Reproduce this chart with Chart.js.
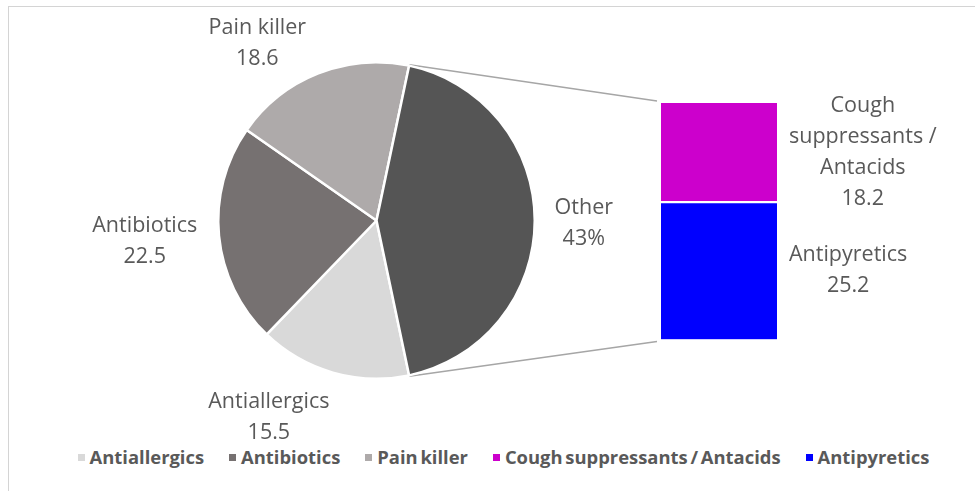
<!DOCTYPE html>
<html>
<head>
<meta charset="utf-8">
<title>Pie of bar</title>
<script src="https://cdn.jsdelivr.net/npm/chart.js@4.4.1/dist/chart.umd.min.js"></script>
<style>
  html, body { margin: 0; padding: 0; background: #fff; }
  #wrap { position: relative; width: 975px; height: 491px; overflow: hidden; }
  #frame { position: absolute; left: 8px; top: 6px; width: 1100px; height: 600px;
           border-left: 1px solid #d4d4d4; border-top: 1px solid #d4d4d4; }
  #pieChart { position: absolute; left: 0; top: 0; }
  #barChart { position: absolute; left: 640px; top: 60px; }
  #legend { position: absolute; left: 0; width: 1007px; top: 444px; display: flex;
            justify-content: center; font: bold 18.4px "Open Sans"; color: #595959; line-height: 26px;
            word-spacing: -2px; }
  .lg-item { display: flex; align-items: center; margin: 0 12.5px; white-space: nowrap; }
  .lg-box { width: 7px; height: 7px; margin-right: 5px; }
</style>
</head>
<body>
<div id="wrap">
  <div id="frame"></div>
  <canvas id="pieChart" width="753" height="441"></canvas>
  <canvas id="barChart" width="335" height="310"></canvas>
  <div id="legend"></div>
</div>
<script>
// ── data ─────────────────────────────────────────────
const pieLabels = ['Antiallergics', 'Antibiotics', 'Pain killer'];
const pieValues = [15.5, 22.5, 18.6];
const barLabels = ['Cough suppressants / Antacids', 'Antipyretics'];
const barValues = [18.2, 25.2];
const otherLabel = 'Other';

const pieColors = ['#d9d9d9', '#767171', '#aeaaaa'];
const otherColor = '#555555';
const barColors = ['#cc00cc', '#0000ff'];

const textColor = '#595959';
const labelFont = '21.5px "Open Sans"';

const otherValue = barValues.reduce((a, b) => a + b, 0);
const grandTotal = pieValues.reduce((a, b) => a + b, 0) + otherValue;
// Other slice centred on the right, like Excel's pie-of-bar
const otherSweep = otherValue / grandTotal * 360;

// simple greedy word wrap for the canvas labels
function wrapText(ctx, text, maxW) {
  const words = text.split(' ');
  const lines = [];
  let cur = '';
  words.forEach(w => {
    const test = cur ? cur + ' ' + w : w;
    if (cur && ctx.measureText(test).width > maxW) { lines.push(cur); cur = w; }
    else cur = test;
  });
  if (cur) lines.push(cur);
  return lines;
}

// ── bar (the "of bar" part) ──────────────────────────
const barLabelPlugin = {
  id: 'barLabels',
  afterDraw(chart, args, opts) {
    const ctx = chart.ctx;
    ctx.save();
    ctx.font = labelFont;
    ctx.fillStyle = textColor;
    ctx.textAlign = 'center';
    ctx.textBaseline = 'middle';
    chart.data.datasets.forEach((ds, i) => {
      const bar = chart.getDatasetMeta(i).data[0];
      const p = bar.getProps(['x', 'y', 'base', 'width']);
      const lines = wrapText(ctx, ds.label, opts.wrapWidth).concat([String(ds.data[0])]);
      const bw = Math.max(...lines.map(l => ctx.measureText(l).width));
      const cx = p.x + p.width / 2 + opts.gap + bw / 2;
      const cy = (p.y + p.base) / 2;
      lines.forEach((t, k) => ctx.fillText(t, cx, cy + (k - (lines.length - 1) / 2) * opts.lineHeight));
    });
    ctx.restore();
  }
};

// stacked bottom-up: Antipyretics below, Cough suppressants on top
const barDatasets = barLabels.map((lab, i) => ({
  label: lab,
  data: [barValues[i]],
  backgroundColor: barColors[i],
  borderColor: '#ffffff',
  borderWidth: i === 0 ? { top: 0, bottom: 1.5, left: 0, right: 0 } : { top: 1.5, bottom: 0, left: 0, right: 0 },
  borderSkipped: false,
  barPercentage: 1,
  categoryPercentage: 1
})).reverse();

const barChart = new Chart(document.getElementById('barChart'), {
  type: 'bar',
  data: { labels: [''], datasets: barDatasets },
  options: {
    responsive: false,
    animation: false,
    layout: { padding: { left: 21, right: 198, top: 43, bottom: 30.5 } },
    plugins: {
      legend: { display: false },
      tooltip: { enabled: false },
      barLabels: { gap: 12, wrapWidth: 165, lineHeight: 31 }
    },
    scales: {
      x: { display: false, stacked: true },
      y: { display: false, stacked: true, min: 0, max: otherValue }
    }
  },
  plugins: [barLabelPlugin]
});

// ── pie ──────────────────────────────────────────────
const pieLabelPlugin = {
  id: 'pieLabels',
  beforeDatasetsDraw(chart, args, opts) {
    // connector lines from the Other slice to the bar
    const ctx = chart.ctx;
    const arc = chart.getDatasetMeta(0).data[pieValues.length];
    const a = arc.getProps(['x', 'y', 'startAngle', 'endAngle', 'outerRadius']);
    const offX = barChart.canvas.offsetLeft - chart.canvas.offsetLeft;
    const offY = barChart.canvas.offsetTop - chart.canvas.offsetTop;
    const metas = barChart.data.datasets.map((d, i) => barChart.getDatasetMeta(i).data[0].getProps(['x', 'y', 'base', 'width']));
    const left = metas[0].x - metas[0].width / 2 + offX - 4;
    const top = Math.min(...metas.map(m => m.y)) + offY - 2;
    const bottom = Math.max(...metas.map(m => m.base)) + offY + 2;
    const R = a.outerRadius + 1;
    ctx.save();
    ctx.strokeStyle = '#a6a6a6';
    ctx.lineWidth = 1.5;
    ctx.beginPath();
    ctx.moveTo(a.x + Math.cos(a.startAngle) * R, a.y + Math.sin(a.startAngle) * R);
    ctx.lineTo(left, top);
    ctx.moveTo(a.x + Math.cos(a.endAngle) * R, a.y + Math.sin(a.endAngle) * R);
    ctx.lineTo(left, bottom);
    ctx.stroke();
    ctx.restore();
  },
  afterDraw(chart, args, opts) {
    const ctx = chart.ctx;
    const ds = chart.data.datasets[0];
    ctx.save();
    ctx.font = labelFont;
    ctx.fillStyle = textColor;
    ctx.textAlign = 'center';
    ctx.textBaseline = 'middle';
    chart.getDatasetMeta(0).data.forEach((arc, i) => {
      const p = arc.getProps(['x', 'y', 'startAngle', 'endAngle', 'outerRadius']);
      const mid = (p.startAngle + p.endAngle) / 2 + opts.shift[i] * Math.PI / 180;
      const d = p.outerRadius * opts.dist[i];
      const cx = p.x + Math.cos(mid) * d;
      const cy = p.y + Math.sin(mid) * d;
      const val = i === pieValues.length
        ? Math.round(ds.data[i] / grandTotal * 100) + '%'
        : String(ds.data[i]);
      const lines = [chart.data.labels[i], val];
      lines.forEach((t, k) => ctx.fillText(t, cx, cy + (k - (lines.length - 1) / 2) * opts.lineHeight));
    });
    ctx.restore();
  }
};

const pieChart = new Chart(document.getElementById('pieChart'), {
  type: 'pie',
  data: {
    labels: pieLabels.concat([otherLabel]),
    datasets: [{
      data: pieValues.concat([otherValue]),
      backgroundColor: pieColors.concat([otherColor]),
      borderColor: '#ffffff',
      borderWidth: 2.5
    }]
  },
  options: {
    responsive: false,
    animation: false,
    rotation: 90 + otherSweep / 2,
    layout: { padding: { left: 217, right: 217, top: 61, bottom: 61 } },
    plugins: {
      legend: { display: false },
      tooltip: { enabled: false },
      pieLabels: {
        shift: [12.6, 0.5, -12.3, 0.8],
        dist: [1.42, 1.47, 1.35, 1.31],
        lineHeight: 31
      }
    }
  },
  plugins: [pieLabelPlugin]
});

// ── legend (built from the same arrays) ──────────────
const legendEl = document.getElementById('legend');
const legendItems = pieLabels.map((l, i) => [l, pieColors[i]])
  .concat(barLabels.map((l, i) => [l, barColors[i]]));
legendItems.forEach(([text, color]) => {
  const item = document.createElement('div');
  item.className = 'lg-item';
  item.innerHTML = `<span class="lg-box" style="background:${color}"></span><span>${text}</span>`;
  legendEl.appendChild(item);
});
</script>
</body>
</html>
